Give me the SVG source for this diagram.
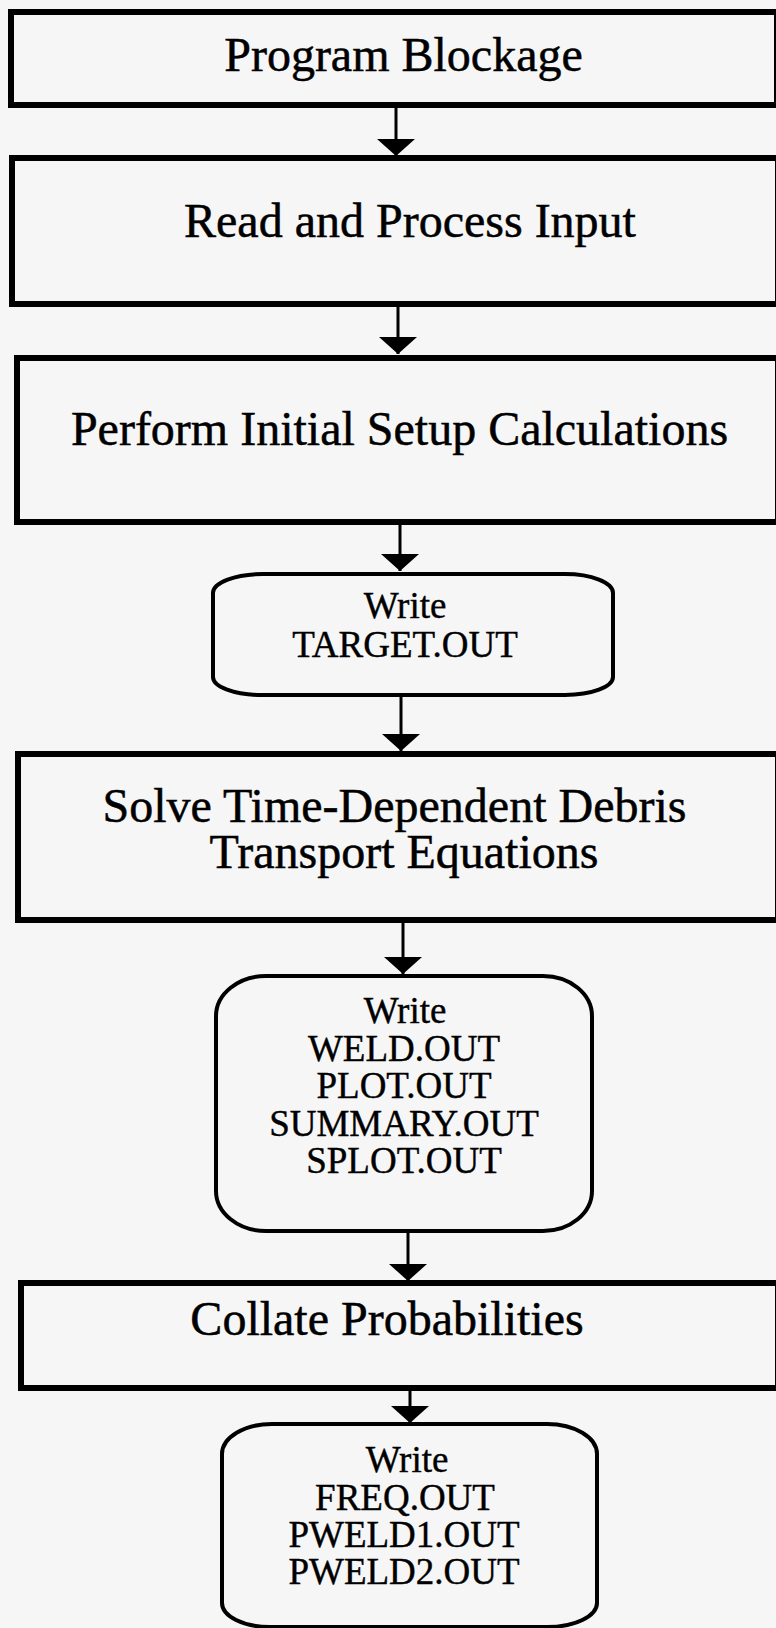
<svg xmlns="http://www.w3.org/2000/svg" width="776" height="1628" viewBox="0 0 776 1628">
<style>
.bg{fill:#f6f6f6}
.box{fill:none;stroke:#000;stroke-width:6}
.rbox{fill:none;stroke:#000;stroke-width:4}
.big{font-family:"Liberation Serif","Times New Roman",serif;font-size:48px;fill:#000;stroke:#000;stroke-width:0.5;text-anchor:middle}
.sm{font-family:"Liberation Serif","Times New Roman",serif;font-size:37px;fill:#000;stroke:#000;stroke-width:0.4;text-anchor:middle}
.conn line{stroke:#000;stroke-width:3;marker-end:url(#ah)}
</style>
<defs>
<marker id="ah" markerUnits="userSpaceOnUse" viewBox="0 -19 17 38" refX="17" refY="0" markerWidth="17" markerHeight="38" orient="auto">
<path d="M0,-19 L17,0 L0,19 Z" fill="#000"/>
</marker>
</defs>
<rect class="bg" x="0" y="0" width="776" height="1628"/>
<g id="n1">
<rect class="box" x="11" y="12" width="766" height="93"/>
<text class="big" x="403.5" y="71">Program Blockage</text>
</g>
<g id="n2">
<rect class="box" x="12" y="158" width="766" height="146"/>
<text class="big" x="410" y="237">Read and Process Input</text>
</g>
<g id="n3">
<rect class="box" x="17" y="358" width="761" height="164"/>
<text class="big" x="399.5" y="445">Perform Initial Setup Calculations</text>
</g>
<g id="n4">
<path class="rbox" d="M263,574 L565,574 A48,19 0 0 1 613,593 L613,677 A48,18 0 0 1 565,695 L261,695 A48,18 0 0 1 213,677 L213,593 A50,19 0 0 1 263,574 Z"/>
<text class="sm" x="405" y="618">Write</text>
<text class="sm" x="405" y="657">TARGET.OUT</text>
</g>
<g id="n5">
<rect class="box" x="18" y="754" width="760" height="166"/>
<text class="big" x="394.5" y="822">Solve Time-Dependent Debris</text>
<text class="big" x="404" y="868">Transport Equations</text>
</g>
<g id="n6">
<path class="rbox" d="M266,976 L543,976 A49,40 0 0 1 592,1016 L592,1191 A49,40 0 0 1 543,1231 L266,1231 A50,40 0 0 1 216,1191 L216,1016 A50,40 0 0 1 266,976 Z"/>
<text class="sm" x="405" y="1023">Write</text>
<text class="sm" x="404" y="1061">WELD.OUT</text>
<text class="sm" x="404" y="1098">PLOT.OUT</text>
<text class="sm" x="404" y="1136">SUMMARY.OUT</text>
<text class="sm" x="404" y="1173">SPLOT.OUT</text>
</g>
<g id="n7">
<rect class="box" x="21" y="1283" width="757" height="105"/>
<text class="big" x="387" y="1335">Collate Probabilities</text>
</g>
<g id="n8">
<path class="rbox" d="M272,1424 L547,1424 A50,30 0 0 1 597,1454 L597,1603 A50,24 0 0 1 547,1627 L270,1627 A48,24 0 0 1 222,1603 L222,1454 A50,30 0 0 1 272,1424 Z"/>
<text class="sm" x="407" y="1472">Write</text>
<text class="sm" x="405" y="1510">FREQ.OUT</text>
<text class="sm" x="404" y="1547">PWELD1.OUT</text>
<text class="sm" x="404" y="1584">PWELD2.OUT</text>
</g>
<g id="connectors" class="conn">
<line x1="396" y1="108" x2="396" y2="156"/>
<line x1="398" y1="307" x2="398" y2="354"/>
<line x1="400" y1="525" x2="400" y2="571"/>
<line x1="401" y1="697" x2="401" y2="751"/>
<line x1="403" y1="923" x2="403" y2="974"/>
<line x1="408" y1="1233" x2="408" y2="1281"/>
<line x1="410" y1="1391" x2="410" y2="1423"/>
</g>
</svg>
